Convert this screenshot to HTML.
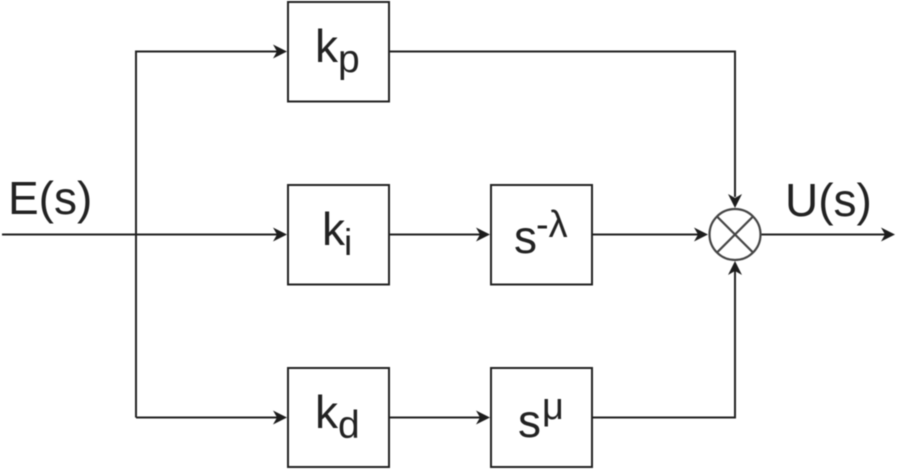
<!DOCTYPE html>
<html><head><meta charset="utf-8"><style>
html,body{margin:0;padding:0;background:#fff}
svg{display:block;filter:blur(.4px)}
text{font-family:"Liberation Sans",sans-serif;fill:#222}
</style></head><body>
<svg width="905" height="469" viewBox="0 0 905 469" xmlns="http://www.w3.org/2000/svg">
<g fill="none" stroke="#222" stroke-width="2">
<rect x="288" y="2" width="101" height="99.5"/>
<rect x="288" y="185" width="101" height="99.5"/>
<rect x="288" y="368" width="101" height="99"/>
<rect x="491" y="185" width="101" height="99.5"/>
<rect x="491" y="368" width="101" height="99"/>
<path d="M2 234.500H279M136 417.500V51.500H279M136 417.500H279M389 234.500H482M592 234.500H700M389 417.500H482M389 51.500H735V197M592 417.500H735V270M761 234.500H887"/>
</g>
<g fill="none" stroke="#444" stroke-width="2.200">
<circle cx="735" cy="234.500" r="25.500"/>
<path d="M717 216.500L753 252.500M753 216.500L717 252.500"/>
</g>
<g fill="#1c1c1c">
<path d="M287 51.500L273 44.500L277 51.500L273 58.500Z"/>
<path d="M287 234.500L273 227.500L277 234.500L273 241.500Z"/>
<path d="M287 417.500L273 410.500L277 417.500L273 424.500Z"/>
<path d="M490 234.500L476 227.500L480 234.500L476 241.500Z"/>
<path d="M490 417.500L476 410.500L480 417.500L476 424.500Z"/>
<path d="M708 234.500L694 227.500L698 234.500L694 241.500Z"/>
<path d="M895 234.500L881 227.500L885 234.500L881 241.500Z"/>
<path d="M735 208L728 194L735 198L742 194Z"/>
<path d="M735 261L728 275L735 271L742 275Z"/>
</g>
<text x="8" y="214" font-size="46">E(s)</text>
<text x="785" y="216" font-size="46">U(s)</text>
<text x="315" y="62" font-size="46">k</text><text x="338" y="72" font-size="39">p</text>
<text x="322" y="245" font-size="46">k</text><text x="344" y="255" font-size="37">i</text>
<text x="315" y="428" font-size="46">k</text><text x="338" y="438" font-size="39">d</text>
<text x="514" y="253" font-size="46">s</text><text x="536" y="237" font-size="38">-λ</text>
<text x="518" y="437" font-size="46">s</text><text x="542" y="419" font-size="38">μ</text>
</svg>
</body></html>
